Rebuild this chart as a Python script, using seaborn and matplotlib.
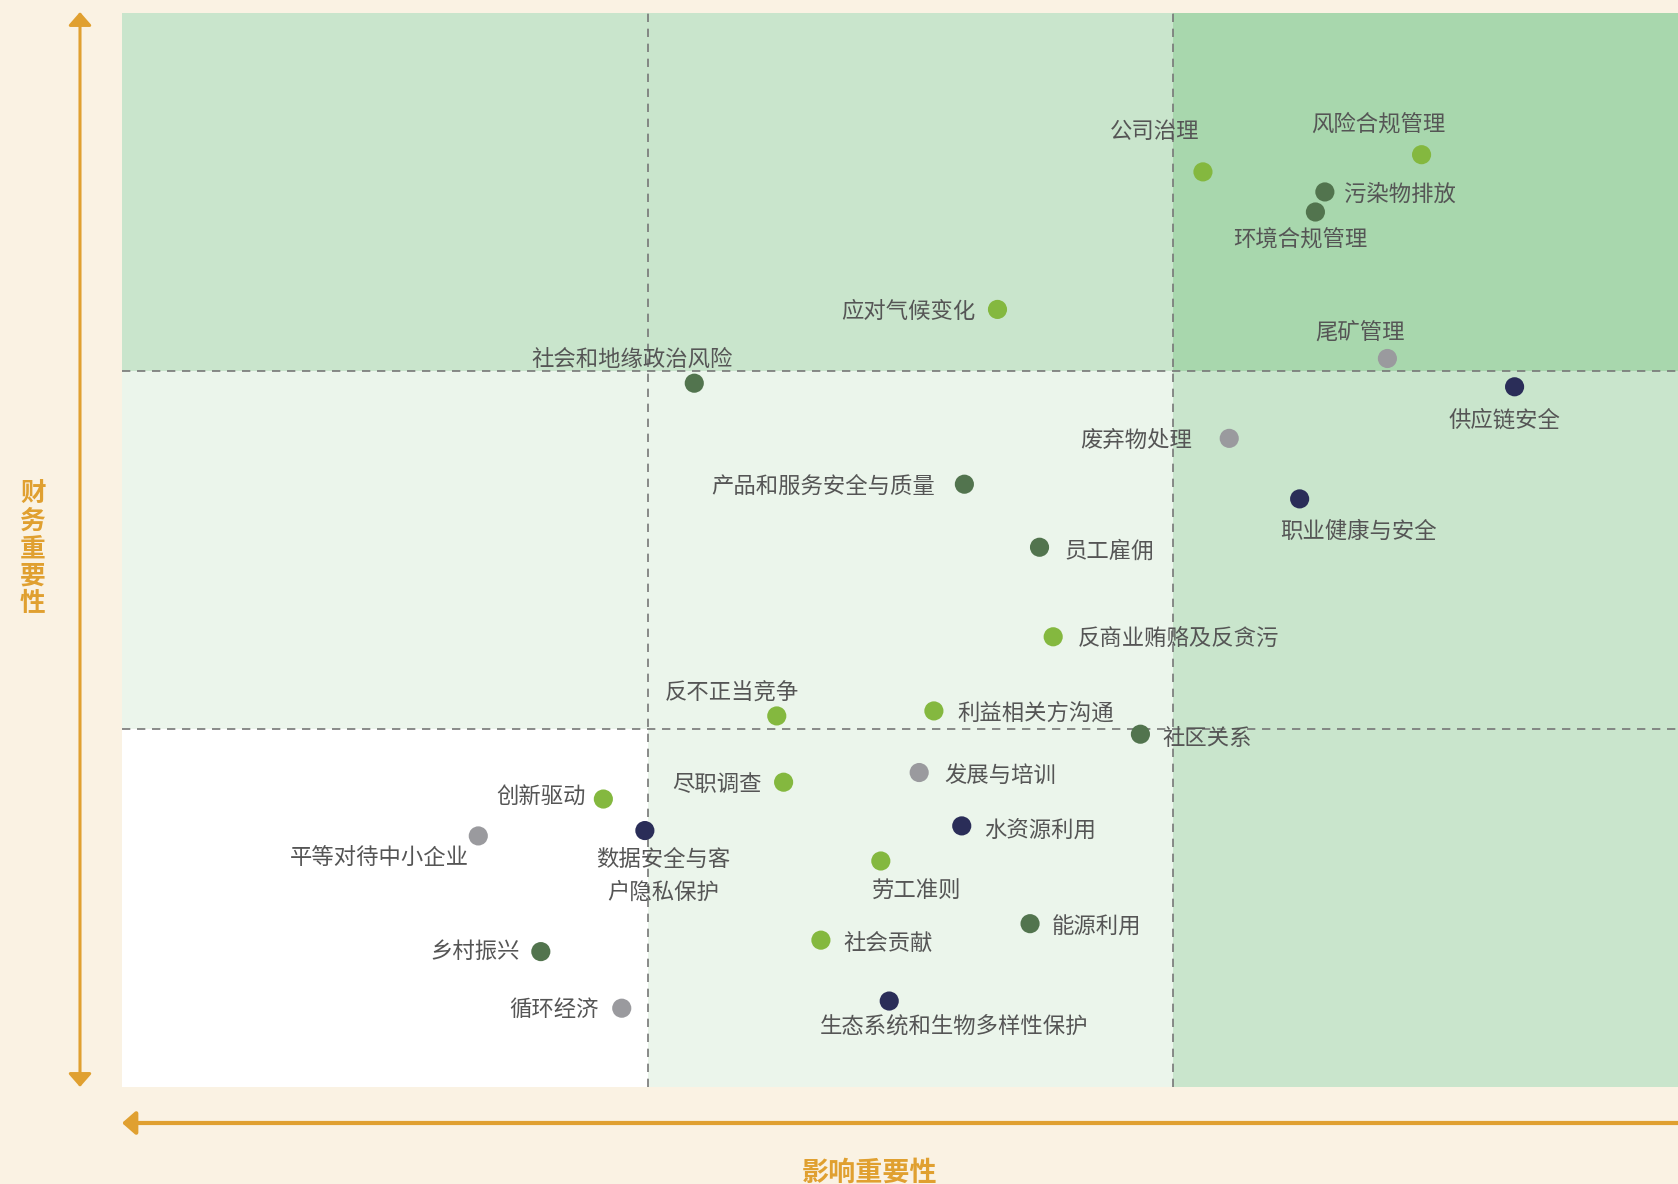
import matplotlib
matplotlib.use("Agg")
import matplotlib.pyplot as plt
from matplotlib.patches import Rectangle, FancyArrowPatch, ArrowStyle
import pandas as pd
import seaborn as sns

plt.rcParams['font.family'] = ['Noto Sans CJK SC', 'DejaVu Sans']

# ESG materiality matrix data (impact importance vs financial importance, 0-3 scale)
topics = ['公司治理', '风险合规管理', '污染物排放', '环境合规管理', '应对气候变化',
          '尾矿管理', '社会和地缘政治风险', '供应链安全', '废弃物处理', '产品和服务安全与质量',
          '职业健康与安全', '员工雇佣', '反商业贿赂及反贪污', '反不正当竞争', '利益相关方沟通',
          '社区关系', '尽职调查', '发展与培训', '创新驱动', '平等对待中小企业',
          '数据安全与客\n户隐私保护', '水资源利用', '劳工准则', '能源利用', '乡村振兴',
          '社会贡献', '循环经济', '生态系统和生物多样性保护']
impact = [2.057, 2.473, 2.289, 2.271, 1.666,
          2.408, 1.089, 2.650, 2.107, 1.603,
          2.241, 1.746, 1.772, 1.246, 1.545,
          1.938, 1.259, 1.517, 0.916, 0.678,
          0.995, 1.598, 1.444, 1.728, 0.797,
          1.330, 0.951, 1.460]
financial = [2.555, 2.603, 2.499, 2.443, 2.171,
             2.034, 1.965, 1.955, 1.811, 1.683,
             1.642, 1.507, 1.257, 1.036, 1.050,
             0.985, 0.851, 0.878, 0.804, 0.701,
             0.716, 0.729, 0.631, 0.456, 0.378,
             0.410, 0.220, 0.240]
groups = ['A', 'A', 'B', 'B', 'A',
          'C', 'B', 'D', 'C', 'B',
          'D', 'B', 'A', 'A', 'A',
          'B', 'A', 'C', 'A', 'C',
          'D', 'D', 'A', 'B', 'B',
          'A', 'C', 'D']

df = pd.DataFrame({'topic': topics, 'impact': impact, 'financial': financial, 'group': groups})

palette = {'A': '#84B83F', 'B': '#52744E', 'C': '#9A9A9E', 'D': '#2A2D58'}

# label placement: (dx px, dy px upward, horizontal alignment)
label_pos = [(-48, 42, 'center'), (-43, 33, 'center'), (19, 0, 'left'), (-15, -26, 'center'),
             (-22, 0, 'right'), (-27, 28, 'center'), (-62, 26, 'center'), (-10, -31, 'center'),
             (-37, 0, 'right'), (-29, 0, 'right'), (59, -31, 'center'), (25, -2, 'left'),
             (25, 0, 'left'), (-45, 25, 'center'), (23, 0, 'left'), (22, -2, 'left'),
             (-22, 0, 'right'), (25, -2, 'left'), (-18, 4, 'right'), (-99, -20, 'center'),
             (18, -43, 'center'), (22, -3, 'left'), (36, -28, 'center'), (22, -2, 'left'),
             (-21, 2, 'right'), (22, -2, 'left'), (-23, 1, 'right'), (65, -24, 'center')]

W, H = 1678, 1184
fig = plt.figure(figsize=(W / 100, H / 100), dpi=100)
fig.patch.set_facecolor('#FAF2E3')

# axes: left 122px, top 12.5px, bottom 1087px; each column 525.5px (right column runs off the figure)
ax = fig.add_axes([122 / W, (H - 1087) / H, 3 * 525.5 / W, (1087 - 12.5) / H])
ax.set_xlim(0, 3)
ax.set_ylim(0, 3)
ax.set_axis_off()

# quadrant shading, rows bottom->top, cols left->right
cell_colors = [['#FFFFFF', '#EBF5EB', '#C9E5CC'],
               ['#EBF5EB', '#EBF5EB', '#C9E5CC'],
               ['#C9E5CC', '#C9E5CC', '#A8D7AD']]
for r in range(3):
    for c in range(3):
        ax.add_patch(Rectangle((c, r), 1, 1, facecolor=cell_colors[r][c], edgecolor='none', zorder=0))

for v in (1, 2):
    ax.axvline(v, color='#777777', lw=1.2, ls=(0, (5, 4)), zorder=1)
    ax.axhline(v, color='#777777', lw=1.2, ls=(0, (5, 4)), zorder=1)

sns.scatterplot(data=df, x='impact', y='financial', hue='group', palette=palette,
                s=190, linewidth=0, legend=False, ax=ax, zorder=3)

for i, row in df.iterrows():
    dx, dy, ha = label_pos[i]
    ax.annotate(row['topic'], (row['impact'], row['financial']), xytext=(dx, dy - 2),
                textcoords='offset pixels', ha=ha, va='center', fontsize=16.1,
                color='#555555', linespacing=1.55, zorder=4)

# axis arrows
orange = '#E0A030'
fig.add_artist(FancyArrowPatch((80 / W, (H - 1087) / H), (80 / W, (H - 12) / H),
                               arrowstyle=ArrowStyle('<|-|>', head_length=0.8, head_width=0.7),
                               mutation_scale=10, color=orange, lw=2.2,
                               transform=fig.transFigure, shrinkA=0, shrinkB=0))
fig.add_artist(FancyArrowPatch((122 / W, (H - 1123) / H), (1.05, (H - 1123) / H),
                               arrowstyle=ArrowStyle('<|-', head_length=0.8, head_width=0.7),
                               mutation_scale=10, color=orange, lw=3,
                               transform=fig.transFigure, shrinkA=0, shrinkB=0))

fig.text(33 / W, (H - 549) / H, '财\n务\n重\n要\n性', ha='center', va='center',
         fontsize=18.5, fontweight='bold', color=orange, linespacing=1.02)
fig.text(870 / W, (H - 1173) / H, '影响重要性', ha='center', va='center',
         fontsize=19.5, fontweight='bold', color=orange)

fig.savefig('out.png', dpi=100, facecolor=fig.get_facecolor())
